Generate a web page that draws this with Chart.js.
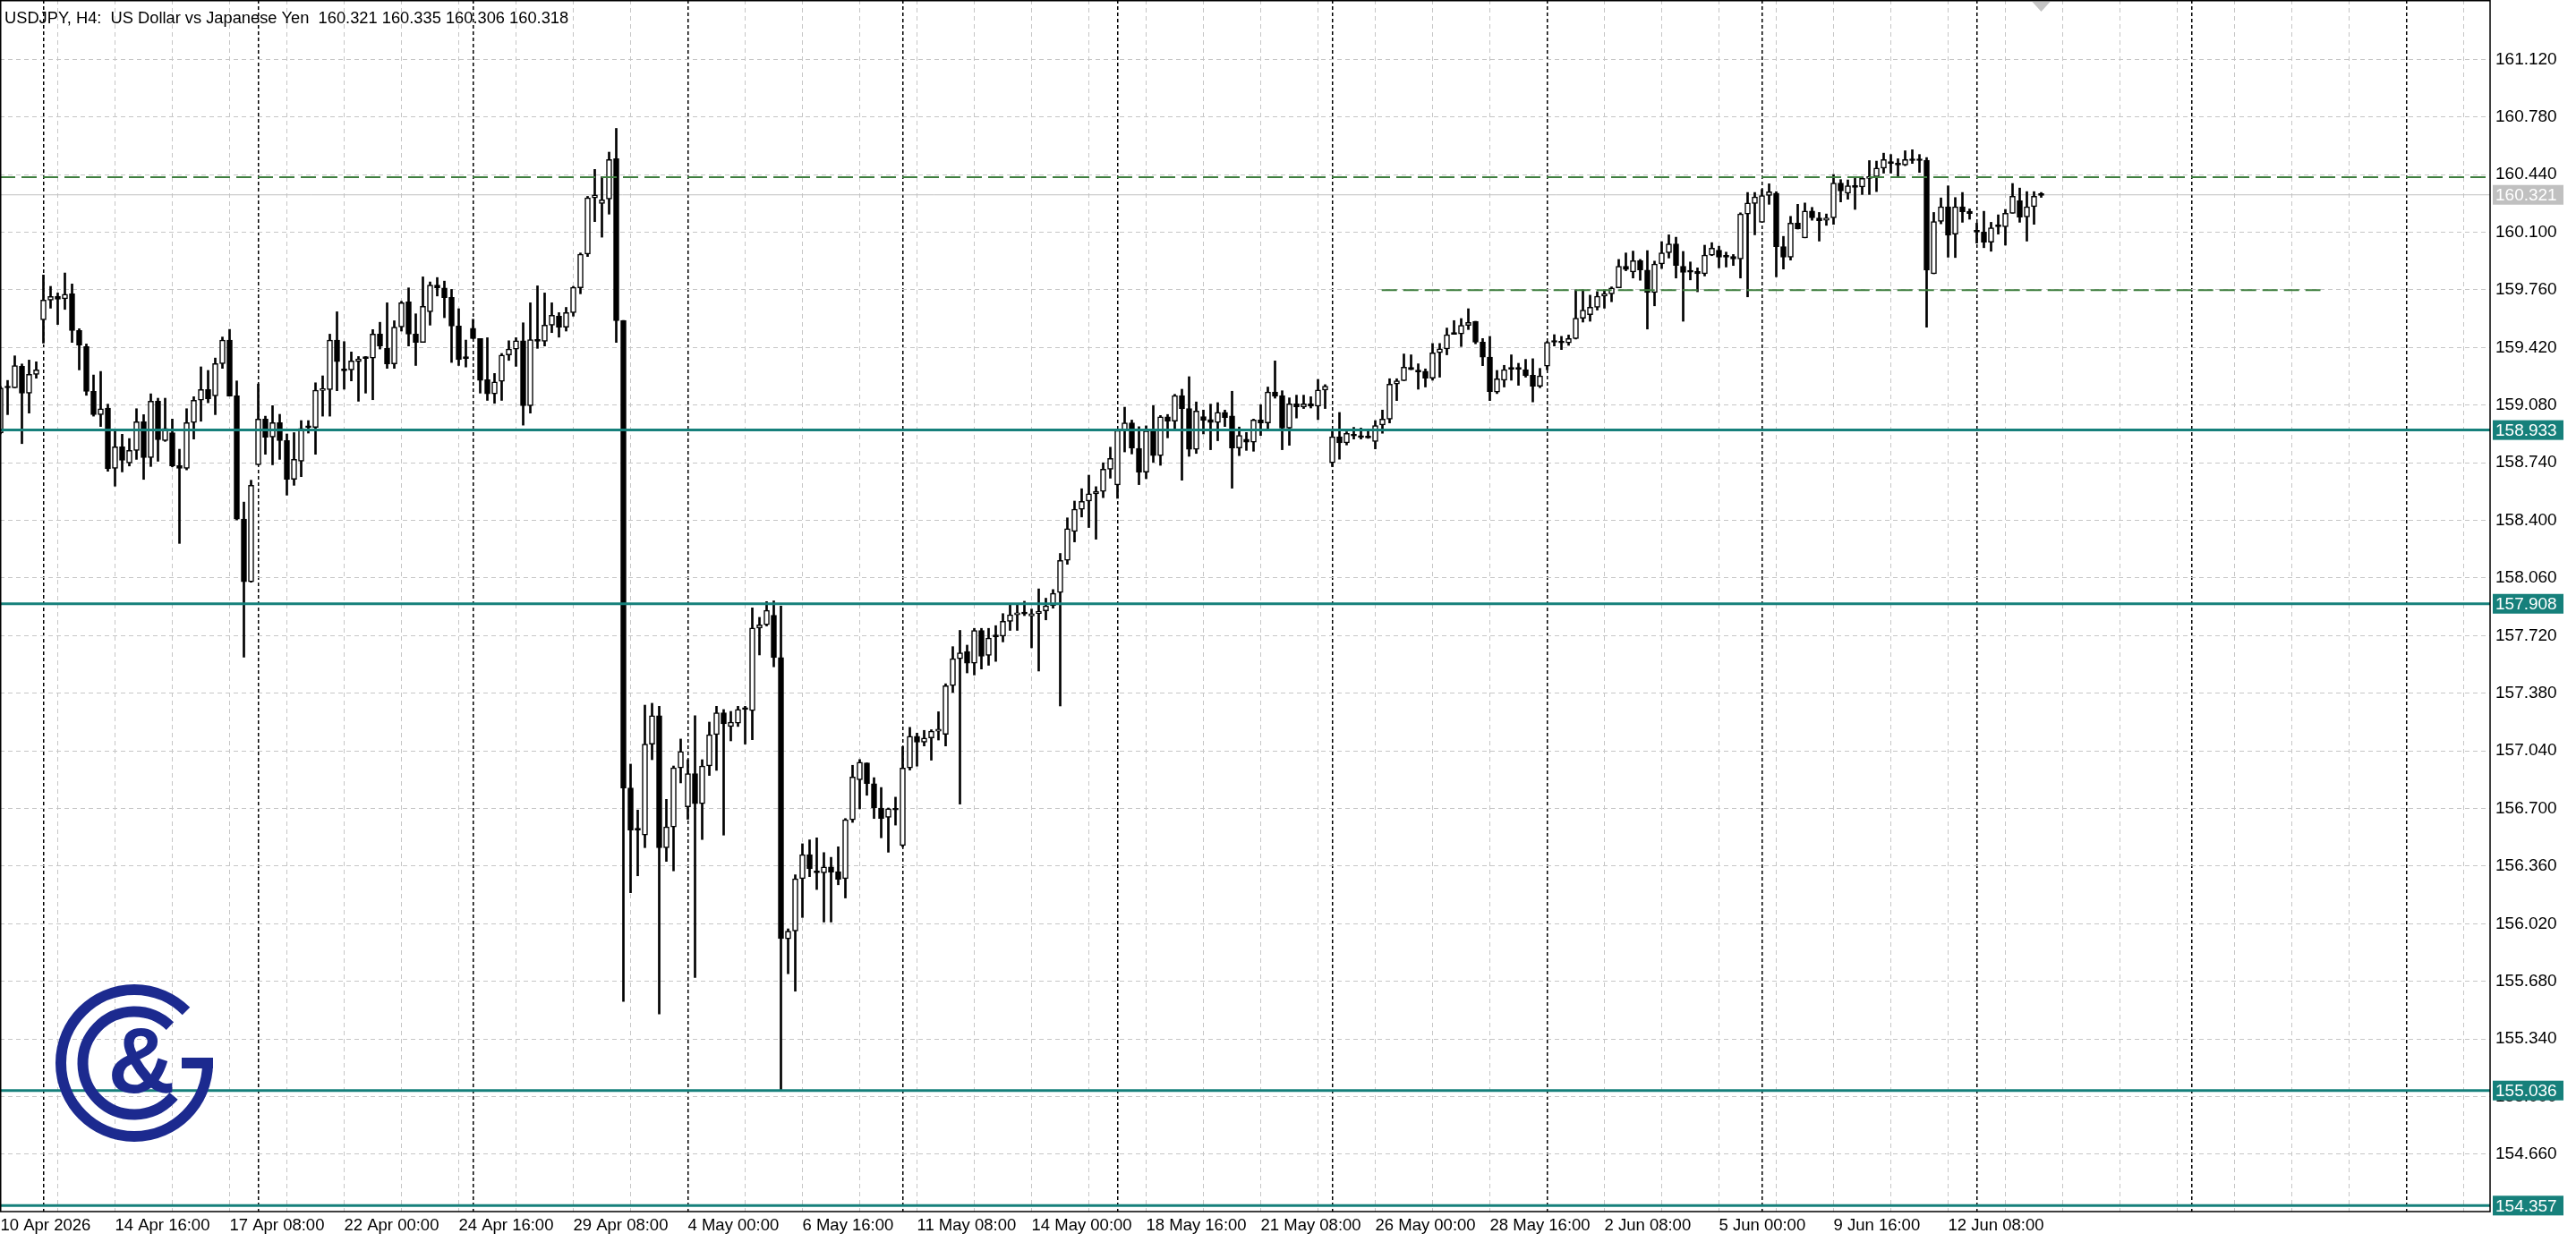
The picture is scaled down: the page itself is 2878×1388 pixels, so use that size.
<!DOCTYPE html>
<html lang="en">
<head>
<meta charset="UTF-8">
<title>USDJPY H4</title>
<script src="https://cdn.jsdelivr.net/npm/chart.js"></script>
<style>
    * { margin: 0; padding: 0; }
    body { background-color: #fff; width: 2878px; height: 1388px; overflow: hidden; }
    canvas { display: block; }
</style>
</head>
<body>
<canvas id="myChart" width="2878" height="1388"></canvas>
<script>
// H4 bars, 10 Apr 2026 00:00 onwards
const opens = [
    158.915, 159.182, 159.182, 159.309, 159.151, 159.262, 159.584, 159.700, 159.723, 159.707,
    159.737, 159.520, 159.425, 159.161, 159.024, 159.063, 158.707, 158.834, 158.739, 158.813,
    158.982, 158.771, 159.103, 158.871, 158.918, 158.725, 158.707, 158.977, 159.109, 159.172,
    159.135, 159.325, 159.464, 159.135, 158.408, 158.038, 158.728, 158.998, 158.892, 158.977,
    158.871, 158.642, 158.749, 158.948, 158.948, 159.167, 159.172, 159.464, 159.293, 159.288,
    159.336, 159.355, 159.358, 159.499, 159.415, 159.323, 159.541, 159.689, 159.499, 159.450,
    159.631, 159.789, 159.772, 159.716, 159.547, 159.355, 159.534, 159.473, 159.230, 159.147,
    159.221, 159.376, 159.411, 159.460, 159.077, 159.467, 159.457, 159.552, 159.605, 159.540,
    159.626, 159.772, 159.971, 160.303, 160.270, 160.296, 160.534, 159.580, 156.821, 156.573,
    156.543, 157.080, 157.247, 156.469, 156.591, 156.940, 156.710, 156.906, 156.728, 156.951,
    157.136, 157.265, 157.184, 157.203, 157.284, 157.277, 157.765, 157.784, 157.840, 157.591,
    155.931, 155.977, 156.286, 156.428, 156.321, 156.321, 156.355, 156.327, 156.286, 156.634,
    156.870, 156.969, 156.847, 156.703, 156.648, 156.691, 156.481, 156.939, 157.126, 157.092,
    157.117, 157.156, 157.138, 157.426, 157.584, 157.626, 157.557, 157.751, 157.603, 157.713,
    157.717, 157.804, 157.843, 157.852, 157.836, 157.850, 157.866, 157.896, 157.974, 158.164,
    158.335, 158.466, 158.514, 158.557, 158.571, 158.702, 158.610, 158.931, 158.976, 158.825,
    158.685, 158.928, 158.782, 159.011, 158.986, 159.136, 159.060, 158.819, 159.012, 158.995,
    158.977, 159.037, 159.016, 158.827, 158.879, 158.861, 158.993, 158.975, 159.157, 159.136,
    158.944, 159.088, 159.069, 159.088, 159.074, 159.169, 158.740, 158.893, 158.857, 158.907,
    158.898, 158.893, 158.866, 158.963, 158.998, 159.204, 159.224, 159.303, 159.276, 159.280,
    159.239, 159.389, 159.412, 159.498, 159.500, 159.551, 159.575, 159.452, 159.363, 159.157,
    159.227, 159.292, 159.292, 159.289, 159.257, 159.192, 159.310, 159.451, 159.456, 159.447,
    159.473, 159.593, 159.614, 159.658, 159.723, 159.737, 159.772, 159.899, 159.866, 159.933,
    159.877, 159.745, 159.913, 159.979, 160.032, 159.900, 159.865, 159.869, 159.856, 159.965,
    159.995, 159.953, 159.957, 159.943, 160.208, 160.270, 160.159, 160.317, 160.331, 160.015,
    159.953, 160.154, 160.067, 160.226, 160.185, 160.171, 160.185, 160.391, 160.330, 160.374,
    160.367, 160.418, 160.428, 160.479, 160.511, 160.508, 160.497, 160.523, 160.529, 160.525,
    159.855, 160.164, 160.251, 160.089, 160.251, 160.224, 160.101, 160.101, 160.041, 160.133,
    160.133, 160.212, 160.286, 160.191, 160.251, 160.321
];
const highs = [
    159.191, 159.226, 159.371, 159.323, 159.346, 159.336, 159.848, 159.781, 159.742, 159.860,
    159.795, 159.531, 159.441, 159.258, 159.279, 159.086, 158.936, 158.908, 158.883, 159.059,
    159.024, 159.147, 159.121, 159.121, 158.998, 158.820, 159.059, 159.130, 159.306, 159.285,
    159.358, 159.482, 159.527, 159.223, 158.508, 158.637, 159.205, 159.015, 159.077, 159.026,
    158.910, 158.918, 158.989, 158.989, 159.212, 159.253, 159.499, 159.631, 159.455, 159.394,
    159.367, 159.367, 159.526, 159.569, 159.684, 159.578, 159.693, 159.772, 159.619, 159.837,
    159.807, 159.833, 159.812, 159.763, 159.649, 159.464, 159.587, 159.473, 159.478, 159.267,
    159.385, 159.460, 159.478, 159.566, 159.684, 159.784, 159.742, 159.684, 159.626, 159.657,
    159.781, 159.978, 160.312, 160.471, 160.428, 160.573, 160.713, 159.580, 156.962, 156.691,
    157.310, 157.321, 157.303, 156.754, 156.951, 157.110, 156.988, 157.247, 156.988, 157.210,
    157.303, 157.284, 157.273, 157.303, 157.303, 157.884, 157.828, 157.921, 157.925, 157.895,
    155.990, 156.309, 156.492, 156.515, 156.527, 156.440, 156.412, 156.474, 156.641, 156.955,
    156.989, 156.969, 156.882, 156.824, 156.703, 156.767, 157.065, 157.179, 157.145, 157.161,
    157.165, 157.271, 157.436, 157.655, 157.751, 157.664, 157.763, 157.763, 157.763, 157.779,
    157.850, 157.900, 157.900, 157.923, 157.877, 157.996, 157.941, 157.992, 158.205, 158.415,
    158.514, 158.587, 158.667, 158.599, 158.740, 158.832, 158.937, 159.068, 158.992, 158.953,
    158.958, 159.077, 159.019, 159.025, 159.144, 159.174, 159.248, 159.099, 159.051, 159.086,
    159.095, 159.051, 159.162, 158.951, 158.919, 158.998, 159.083, 159.187, 159.341, 159.165,
    159.123, 159.139, 159.139, 159.130, 159.232, 159.201, 158.937, 159.037, 158.923, 158.949,
    158.945, 158.940, 158.989, 159.051, 159.236, 159.236, 159.382, 159.377, 159.324, 159.294,
    159.444, 159.444, 159.535, 159.579, 159.591, 159.649, 159.575, 159.473, 159.486, 159.285,
    159.315, 159.377, 159.327, 159.350, 159.354, 159.297, 159.456, 159.496, 159.486, 159.494,
    159.760, 159.760, 159.729, 159.750, 159.760, 159.778, 159.940, 159.978, 159.989, 159.940,
    159.992, 159.930, 160.045, 160.085, 160.071, 159.987, 159.925, 159.890, 160.024, 160.039,
    160.018, 159.983, 159.969, 160.215, 160.335, 160.335, 160.353, 160.386, 160.340, 160.076,
    160.194, 160.265, 160.273, 160.247, 160.217, 160.208, 160.441, 160.411, 160.409, 160.418,
    160.428, 160.523, 160.520, 160.567, 160.559, 160.534, 160.581, 160.587, 160.559, 160.541,
    160.217, 160.303, 160.374, 160.305, 160.335, 160.238, 160.154, 160.224, 160.159, 160.203,
    160.235, 160.388, 160.361, 160.340, 160.340, 160.335
];
const lows = [
    158.910, 159.024, 159.182, 158.853, 159.033, 159.239, 159.446, 159.652, 159.556, 159.645,
    159.450, 159.288, 159.138, 159.015, 158.954, 158.690, 158.602, 158.686, 158.721, 158.760,
    158.642, 158.718, 158.749, 158.866, 158.716, 158.264, 158.698, 158.880, 158.985, 159.094,
    159.024, 159.297, 159.133, 158.403, 157.593, 158.035, 158.728, 158.790, 158.728, 158.760,
    158.549, 158.607, 158.658, 158.915, 158.790, 159.015, 159.015, 159.165, 159.174, 159.223,
    159.103, 159.151, 159.112, 159.411, 159.297, 159.297, 159.517, 159.429, 159.314, 159.450,
    159.552, 159.724, 159.596, 159.332, 159.314, 159.305, 159.473, 159.151, 159.108, 159.091,
    159.108, 159.344, 159.309, 158.962, 159.033, 159.415, 159.429, 159.508, 159.481, 159.517,
    159.605, 159.737, 159.957, 160.163, 160.071, 160.207, 159.450, 155.562, 156.203, 156.303,
    156.469, 156.988, 155.488, 156.388, 156.332, 156.851, 156.636, 155.703, 156.517, 156.895,
    156.925, 156.543, 157.099, 157.184, 157.080, 157.106, 157.606, 157.777, 157.536, 155.040,
    155.725, 155.622, 156.057, 156.298, 156.222, 156.030, 156.030, 156.250, 156.172, 156.618,
    156.698, 156.778, 156.641, 156.527, 156.442, 156.602, 156.474, 156.927, 156.950, 157.069,
    156.985, 157.104, 157.069, 157.385, 156.726, 157.500, 157.488, 157.523, 157.545, 157.568,
    157.683, 157.751, 157.751, 157.838, 157.648, 157.511, 157.813, 157.882, 157.305, 158.141,
    158.273, 158.420, 158.358, 158.289, 158.534, 158.649, 158.530, 158.804, 158.792, 158.611,
    158.646, 158.743, 158.725, 158.887, 158.937, 158.637, 158.778, 158.795, 158.910, 158.817,
    158.870, 158.954, 158.590, 158.782, 158.813, 158.808, 158.901, 158.937, 159.121, 158.817,
    158.843, 159.004, 159.060, 159.063, 158.995, 159.060, 158.717, 158.761, 158.845, 158.880,
    158.880, 158.884, 158.822, 158.914, 158.975, 159.107, 159.224, 159.289, 159.174, 159.187,
    159.227, 159.245, 159.377, 159.498, 159.426, 159.526, 159.442, 159.313, 159.107, 159.148,
    159.187, 159.227, 159.197, 159.245, 159.099, 159.183, 159.289, 159.429, 159.408, 159.433,
    159.470, 159.570, 159.575, 159.641, 159.652, 159.690, 159.772, 159.873, 159.830, 159.817,
    159.529, 159.666, 159.886, 159.948, 159.830, 159.575, 159.819, 159.749, 159.842, 159.962,
    159.890, 159.895, 159.904, 159.830, 159.719, 160.085, 160.159, 160.265, 159.837, 159.883,
    159.936, 160.119, 160.067, 160.171, 160.048, 160.141, 160.147, 160.279, 160.295, 160.235,
    160.323, 160.323, 160.340, 160.449, 160.449, 160.427, 160.493, 160.506, 160.453, 159.540,
    159.855, 160.150, 159.953, 159.951, 160.159, 160.177, 160.036, 160.009, 159.988, 160.089,
    160.024, 160.212, 160.159, 160.048, 160.147, 160.306
];
const closes = [
    159.182, 159.182, 159.314, 159.151, 159.262, 159.288, 159.700, 159.721, 159.705, 159.735,
    159.520, 159.434, 159.161, 159.024, 159.059, 158.704, 158.834, 158.755, 158.813, 158.982,
    158.771, 159.103, 158.876, 158.943, 158.721, 158.707, 158.977, 159.109, 159.172, 159.117,
    159.325, 159.464, 159.133, 158.408, 158.038, 158.607, 158.998, 158.890, 158.977, 158.871,
    158.642, 158.760, 158.943, 158.948, 159.168, 159.174, 159.464, 159.336, 159.283, 159.341,
    159.353, 159.355, 159.499, 159.429, 159.323, 159.541, 159.684, 159.499, 159.450, 159.663,
    159.789, 159.772, 159.714, 159.547, 159.349, 159.355, 159.473, 159.226, 159.147, 159.217,
    159.376, 159.411, 159.460, 159.077, 159.467, 159.457, 159.552, 159.610, 159.540, 159.626,
    159.775, 159.971, 160.303, 160.321, 160.291, 160.529, 159.578, 156.821, 156.573, 156.573,
    157.080, 157.247, 156.469, 156.591, 156.940, 157.036, 156.906, 156.728, 156.951, 157.136,
    157.265, 157.199, 157.210, 157.284, 157.284, 157.765, 157.784, 157.869, 157.591, 155.932,
    155.977, 156.286, 156.428, 156.344, 156.321, 156.355, 156.325, 156.282, 156.634, 156.886,
    156.973, 156.847, 156.703, 156.641, 156.698, 156.691, 156.939, 157.126, 157.092, 157.115,
    157.156, 157.168, 157.424, 157.584, 157.619, 157.557, 157.751, 157.598, 157.706, 157.713,
    157.804, 157.843, 157.855, 157.848, 157.850, 157.864, 157.896, 157.969, 158.164, 158.351,
    158.466, 158.512, 158.557, 158.571, 158.702, 158.766, 158.931, 158.976, 158.827, 158.685,
    158.928, 158.782, 159.011, 158.986, 159.136, 159.060, 158.819, 159.046, 158.989, 158.977,
    159.037, 159.007, 158.827, 158.901, 158.861, 158.993, 158.975, 159.157, 159.134, 158.944,
    159.088, 159.070, 159.088, 159.074, 159.169, 159.192, 158.893, 158.857, 158.914, 158.898,
    158.889, 158.887, 158.960, 158.998, 159.204, 159.224, 159.304, 159.289, 159.276, 159.239,
    159.389, 159.412, 159.495, 159.498, 159.551, 159.568, 159.451, 159.363, 159.160, 159.236,
    159.289, 159.292, 159.292, 159.253, 159.192, 159.252, 159.451, 159.451, 159.447, 159.473,
    159.593, 159.641, 159.658, 159.723, 159.737, 159.772, 159.899, 159.881, 159.933, 159.878,
    159.745, 159.913, 159.979, 160.032, 159.904, 159.863, 159.865, 159.856, 159.965, 160.006,
    159.953, 159.953, 159.943, 160.208, 160.273, 160.309, 160.317, 160.339, 160.015, 159.953,
    160.154, 160.119, 160.226, 160.185, 160.168, 160.185, 160.391, 160.344, 160.374, 160.365,
    160.418, 160.428, 160.479, 160.529, 160.506, 160.497, 160.529, 160.523, 160.523, 159.877,
    160.164, 160.251, 160.083, 160.251, 160.221, 160.210, 160.101, 160.041, 160.127, 160.133,
    160.212, 160.312, 160.189, 160.251, 160.312, 160.318
];

// time labels, one every 16 bars starting at bar 0
const timeLabels = ['10 Apr 2026', '14 Apr 16:00', '17 Apr 08:00', '22 Apr 00:00', '24 Apr 16:00',
    '29 Apr 08:00', '4 May 00:00', '6 May 16:00', '11 May 08:00', '14 May 00:00', '18 May 16:00',
    '21 May 08:00', '26 May 00:00', '28 May 16:00', '2 Jun 08:00', '5 Jun 00:00', '9 Jun 16:00', '12 Jun 08:00'];
const priceTicks = [161.12, 160.78, 160.44, 160.10, 159.76, 159.42, 159.08, 158.74, 158.40, 158.06,
    157.72, 157.38, 157.04, 156.70, 156.36, 156.02, 155.68, 155.34, 155.00, 154.66];

const levelPrices = [158.933, 157.908, 155.036, 154.357];
const upperDash = 160.425;
const lowerDash = 159.758;
const lowerDashBars = [192.9, 324];
const lastPrice = 160.321;

const FONT = "'Liberation Sans', Arial, sans-serif";
const TEAL = '#16807b';
const GRID = '#c6c6c6';
const LOGO_BLUE = '#1c2a8f';

const X_MIN = -0.0625, X_MAX = 347.6875;
const Y_MIN = 154.3217, Y_MAX = 161.4706;

const lastBar = opens.length - 1;
const gridBars = [];
for (let b = 0; b <= X_MAX; b += 8) gridBars.push(b);
const weekBars = [];
for (let b = 6; b <= X_MAX; b += 30) weekBars.push(b);

const bodyData = opens.map((o, i) => ({ x: i, y: [o, closes[i]] }));
const wickData = opens.map((o, i) => ({ x: i, y: [lows[i], highs[i]] }));
const bodyColors = opens.map((o, i) => closes[i] > o ? '#ffffff' : '#000000');

function flatLine(v, from, to) {
    return [{ x: from, y: v }, { x: to, y: v }];
}

const lineSets = levelPrices.map(v => ({
    type: 'line', data: flatLine(v, X_MIN, X_MAX), borderColor: TEAL, borderWidth: 3,
    pointRadius: 0, order: 0
}));
lineSets.push({
    type: 'line', data: flatLine(upperDash, X_MIN, X_MAX), borderColor: '#3f7f3f', borderWidth: 2,
    borderDash: [17, 7], pointRadius: 0, order: 0
});
lineSets.push({
    type: 'line', data: flatLine(lowerDash, lowerDashBars[0], lowerDashBars[1]), borderColor: '#3f7f3f',
    borderWidth: 2, borderDash: [17, 7], pointRadius: 0, order: 0
});
lineSets.push({
    type: 'line', data: flatLine(lastPrice, X_MIN, X_MAX), borderColor: '#c0c0c0', borderWidth: 1,
    pointRadius: 0, order: 3
});

const decor = {
    id: 'decor',
    afterDraw(chart) {
        const ctx = chart.ctx;
        const a = chart.chartArea;
        const y = chart.scales.y;
        const x = chart.scales.x;
        ctx.save();

        // frame
        ctx.strokeStyle = '#000';
        ctx.lineWidth = 1.5;
        ctx.strokeRect(a.left + 0.75, a.top + 0.75, a.right - a.left - 0.75, a.bottom - a.top - 0.75);

        // price boxes on the axis
        ctx.font = '19px ' + FONT;
        ctx.textBaseline = 'middle';
        ctx.textAlign = 'left';
        const boxes = levelPrices.map(v => [v, TEAL]);
        boxes.push([lastPrice, '#c0c0c0']);
        boxes.forEach(([v, col]) => {
            const py = y.getPixelForValue(v);
            ctx.fillStyle = col;
            ctx.fillRect(a.right + 3, py - 11, 79, 22);
            ctx.fillStyle = '#fff';
            ctx.fillText(v.toFixed(3), a.right + 6, py + 1);
        });

        // title
        ctx.font = '18.3px ' + FONT;
        ctx.fillStyle = '#000';
        ctx.textBaseline = 'alphabetic';
        const ohlc = [opens[lastBar], highs[lastBar], lows[lastBar], closes[lastBar]].map(v => v.toFixed(3)).join(' ');
        ctx.fillText('USDJPY, H4:  US Dollar vs Japanese Yen  ' + ohlc, 5, 26);

        // chart shift marker
        const sx = x.getPixelForValue(lastBar);
        ctx.fillStyle = '#c4c4c4';
        ctx.beginPath();
        ctx.moveTo(sx - 10, 2);
        ctx.lineTo(sx + 10, 2);
        ctx.lineTo(sx, 13);
        ctx.closePath();
        ctx.fill();

        // logo
        const cx = 150, cy = 1188;
        ctx.strokeStyle = LOGO_BLUE;
        ctx.fillStyle = LOGO_BLUE;
        ctx.lineWidth = 12;
        ctx.lineCap = 'butt';
        ctx.beginPath();
        ctx.arc(cx, cy, 82, -Math.PI / 4, 0, true);
        ctx.stroke();
        ctx.fillRect(cx + 53, cy - 6, 35, 12);
        ctx.beginPath();
        ctx.arc(cx, cy, 57.5, -46 * Math.PI / 180, 40 * Math.PI / 180, true);
        ctx.stroke();
        ctx.font = "bold 104px 'Liberation Sans', sans-serif";
        ctx.textAlign = 'center';
        ctx.textBaseline = 'middle';
        ctx.fillText('&', cx + 8, cy + 4);

        ctx.restore();
    }
};

const ctx = document.getElementById('myChart');
new Chart(ctx, {
    type: 'bar',
    data: {
        datasets: [
            ...lineSets,
            {
                type: 'bar', label: 'body', data: bodyData, backgroundColor: bodyColors,
                borderColor: '#000', borderWidth: 1.5, borderSkipped: false,
                barThickness: 6, minBarLength: 2, grouped: false, order: 1
            },
            {
                type: 'bar', label: 'wick', data: wickData, backgroundColor: '#000',
                barThickness: 2, grouped: false, order: 2
            }
        ]
    },
    options: {
        responsive: false,
        animation: false,
        events: [],
        layout: { padding: 0 },
        plugins: { legend: { display: false }, tooltip: { enabled: false } },
        scales: {
            x: {
                type: 'linear', position: 'bottom', min: X_MIN, max: X_MAX, offset: false,
                afterBuildTicks: s => { s.ticks = gridBars.map(v => ({ value: v })); },
                afterFit: s => { s.height = 34; s.paddingLeft = 0; s.paddingRight = 0; },
                ticks: {
                    autoSkip: false, maxRotation: 0, minRotation: 0, align: 'start', padding: 5,
                    color: '#000', font: { family: FONT, size: 18.5 },
                    callback: v => (v % 16 === 0 && timeLabels[v / 16]) ? timeLabels[v / 16] : ''
                },
                grid: {
                    color: c => (c.tick && weekBars.includes(c.tick.value)) ? 'rgba(0,0,0,0)' : GRID,
                    lineWidth: 1, drawTicks: false, offset: false
                },
                border: { display: false, dash: [5, 4] }
            },
            sep: {
                type: 'linear', axis: 'x', position: 'top', min: X_MIN, max: X_MAX, offset: false,
                afterBuildTicks: s => { s.ticks = weekBars.map(v => ({ value: v })); },
                afterFit: s => { s.height = 0; },
                ticks: { display: false },
                grid: { color: '#000', lineWidth: 1.5, drawTicks: false, offset: false },
                border: { display: false, dash: [4, 3] }
            },
            y: {
                type: 'linear', position: 'right', min: Y_MIN, max: Y_MAX,
                afterBuildTicks: s => { s.ticks = priceTicks.map(v => ({ value: v })); },
                afterFit: s => { s.width = 96; s.paddingTop = 0; s.paddingBottom = 0; },
                ticks: {
                    autoSkip: false, padding: 6, color: '#000', font: { family: FONT, size: 19 },
                    callback: v => v.toFixed(3)
                },
                grid: { color: GRID, lineWidth: 1, drawTicks: false },
                border: { display: false, dash: [5, 4] }
            }
        }
    },
    plugins: [decor]
});
</script>
</body>
</html>
